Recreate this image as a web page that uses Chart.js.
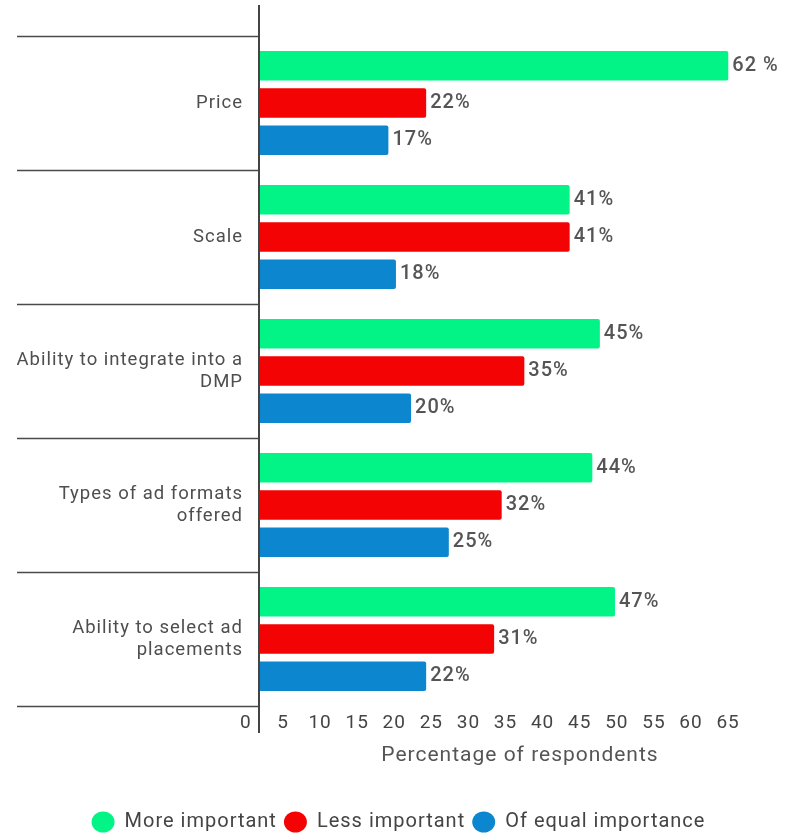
<!DOCTYPE html>
<html>
<head>
<meta charset="utf-8">
<title>Importance of ad platform features</title>
<script src="https://cdn.jsdelivr.net/npm/chart.js@4/dist/chart.umd.min.js"></script>
<style>
  html, body { margin: 0; padding: 0; background: #fff; }
</style>
</head>
<body>
<canvas id="chart" width="788" height="834"></canvas>
<script>
// Survey results: how each factor ranks when choosing an ad platform
const categories = [
  'Price',
  'Scale',
  ['Ability to integrate into a', 'DMP'],
  ['Types of ad formats', 'offered'],
  ['Ability to select ad', 'placements']
];
const seriesNames = ['More important', 'Less important', 'Of equal importance'];
const moreImportant = [62, 41, 45, 44, 47];
const lessImportant = [22, 41, 35, 32, 31];
const equalImportance = [17, 18, 20, 25, 22];
const tickValues = [0, 5, 10, 15, 20, 25, 30, 35, 40, 45, 50, 55, 60, 65];

const colors = ['#02f386', '#f30303', '#0b86cf'];
const textGray = '#4e4e4e';

// the Price / More important label was printed with a space before the sign
const labelText = (d, i, v) => (d === 0 && i === 0 ? v + ' %' : v + '%');

const letterSpacing = {
  id: 'letterSpacing',
  beforeLayout(chart) { chart.ctx.letterSpacing = '1px'; },
  beforeDraw(chart) { chart.ctx.letterSpacing = '1px'; }
};

// long vertical axis line, running past the plot top and bottom
const axisLine = {
  id: 'axisLine',
  afterDatasetsDraw(chart) {
    const ctx = chart.ctx;
    const x = chart.scales.x.getPixelForValue(0) - 1;
    ctx.save();
    ctx.strokeStyle = '#444';
    ctx.lineWidth = 2;
    ctx.beginPath();
    ctx.moveTo(x, 5);
    ctx.lineTo(x, 733);
    ctx.stroke();
    ctx.restore();
  }
};

// percentage next to the end of every bar
const valueLabels = {
  id: 'valueLabels',
  afterDatasetsDraw(chart) {
    const ctx = chart.ctx;
    ctx.save();
    ctx.font = '500 20px Roboto';
    ctx.fillStyle = '#555';
    ctx.textAlign = 'left';
    ctx.textBaseline = 'middle';
    chart.data.datasets.forEach((ds, d) => {
      chart.getDatasetMeta(d).data.forEach((bar, i) => {
        ctx.fillText(labelText(d, i, ds.data[i]), bar.x + 4, bar.y);
      });
    });
    ctx.restore();
  }
};

Chart.defaults.font.family = 'Roboto';
Chart.defaults.color = textGray;

new Chart(document.getElementById('chart'), {
  type: 'bar',
  data: {
    labels: categories,
    datasets: [moreImportant, lessImportant, equalImportance].map((values, k) => ({
      label: seriesNames[k],
      data: values,
      backgroundColor: colors[k],
      borderWidth: 0,
      borderRadius: 2,
      categoryPercentage: 0.833,
      barPercentage: 0.79
    }))
  },
  options: {
    indexAxis: 'y',
    responsive: false,
    animation: false,
    events: [],
    // negative bottom padding lets the legend row sit near the canvas edge
    layout: { padding: { left: 17, right: 8, top: 36, bottom: -8 } },
    scales: {
      x: {
        display: false,
        min: 0,
        max: 68.85
      },
      // tick labels sit on their own axis, offset from the bar scale
      xt: {
        type: 'linear',
        position: 'bottom',
        min: 1.9,
        max: 72.0,
        grid: { display: false, drawTicks: false },
        border: { display: false },
        ticks: {
          autoSkip: false,
          maxRotation: 0,
          padding: 6,
          color: '#444',
          font: { size: 19 }
        },
        title: {
          display: true,
          text: 'Percentage of respondents',
          color: '#555',
          font: { size: 21 },
          padding: { top: 0, bottom: 37 }
        },
        afterBuildTicks(axis) {
          axis.ticks = tickValues.map(v => ({ value: v }));
        },
        afterFit(axis) {
          axis.height = 99;
          axis.paddingLeft = 0;
          axis.paddingRight = 0;
        }
      },
      y: {
        border: { display: false },
        grid: {
          drawOnChartArea: false,
          drawTicks: true,
          tickLength: 243,
          tickColor: '#4a4a4a',
          tickWidth: 1.5
        },
        ticks: {
          padding: -226,
          color: textGray,
          font: { size: 18.5, lineHeight: 1.2 }
        },
        afterFit(axis) {
          axis.width = 243;
          axis.paddingTop = 0;
          axis.paddingBottom = 0;
        }
      }
    },
    plugins: {
      tooltip: { enabled: false },
      legend: {
        position: 'bottom',
        labels: {
          usePointStyle: true,
          pointStyle: 'circle',
          pointStyleWidth: 23,
          boxHeight: 15,
          padding: 7,
          color: '#444',
          font: { size: 20 }
        }
      }
    }
  },
  plugins: [letterSpacing, axisLine, valueLabels]
});
</script>
</body>
</html>
